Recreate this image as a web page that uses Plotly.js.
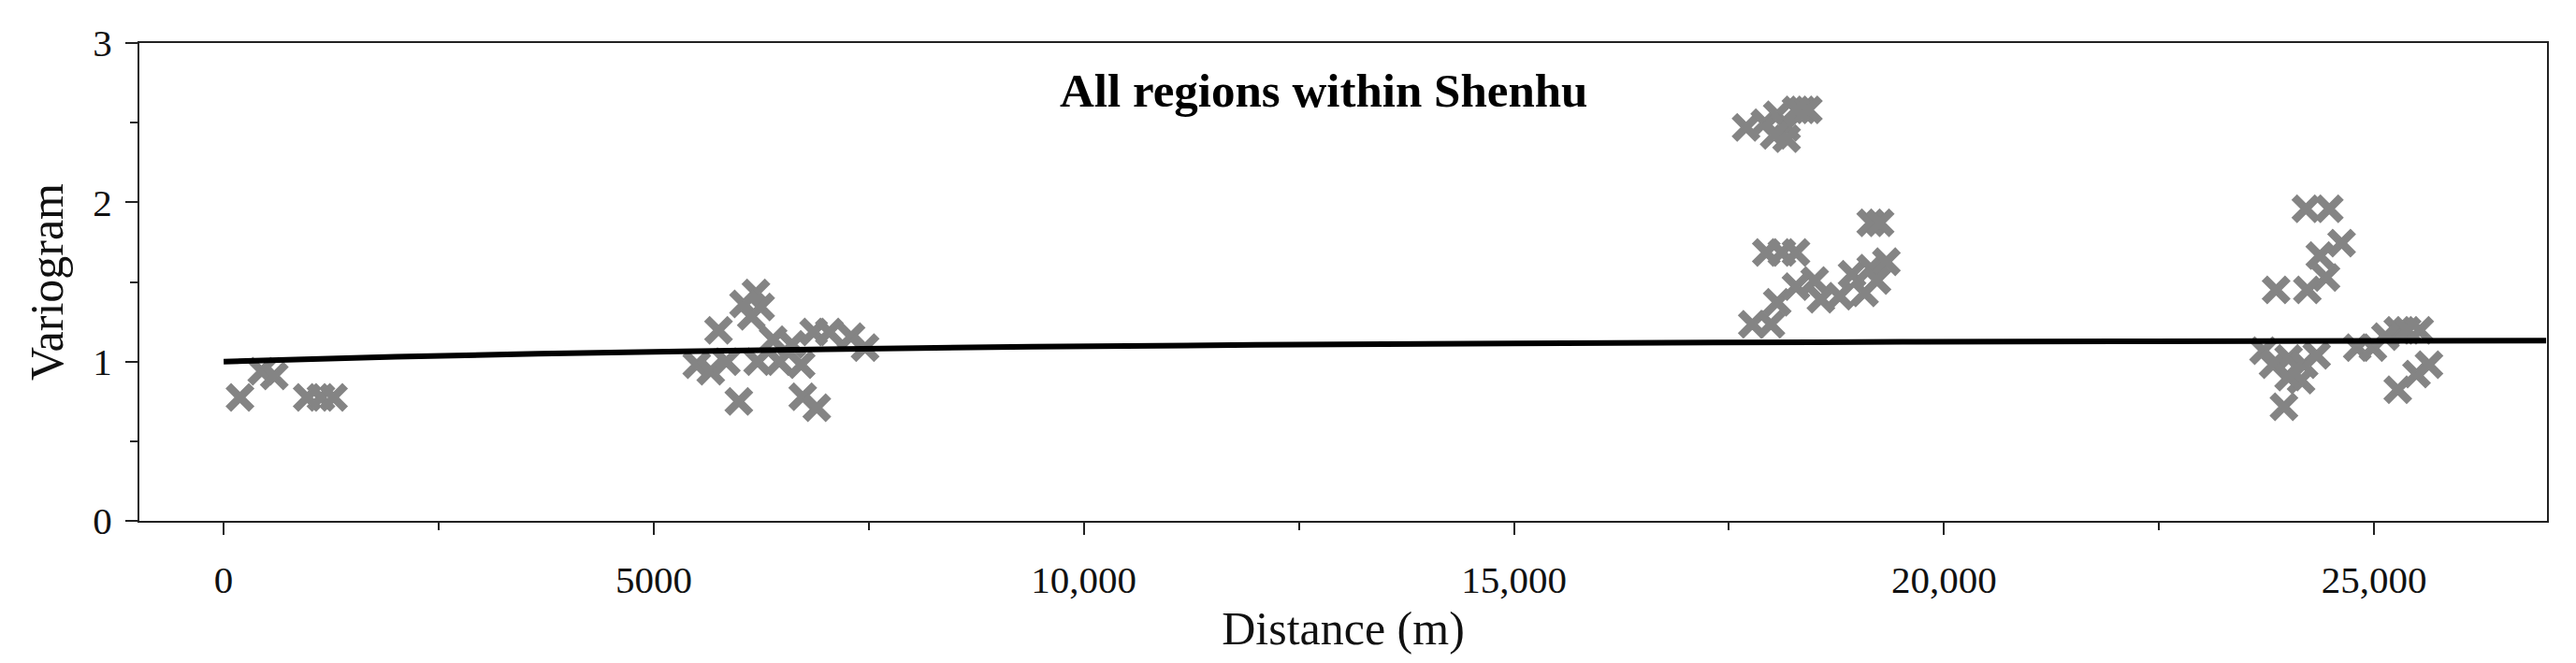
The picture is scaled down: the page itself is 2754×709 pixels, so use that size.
<!DOCTYPE html>
<html>
<head>
<meta charset="utf-8">
<script src="https://cdn.plot.ly/plotly-3.0.1.min.js"></script>
<style>
  html, body { margin: 0; padding: 0; background: #fff; }
  #plot { width: 2754px; height: 709px; }
</style>
</head>
<body>
<div id="plot"></div>
<script>
document.addEventListener("DOMContentLoaded", function(event) {

  // experimental variogram points, distance in m
  const distance = [
    190, 443, 588, 971, 1131, 1277,
    6188, 6044, 6243, 6134, 5753, 5500, 5663, 5844, 6388, 6207,
    6460, 6714, 6859, 7041, 7294, 7457, 6606, 5989, 6732, 6895,
    17699, 17916, 18061, 18170, 18170, 18025, 18352, 18423, 18279,
    17934, 18115, 18279, 19148, 19257,
    17771, 17988, 18061, 18279, 18496, 18569, 18787, 18931, 19148, 19330, 19076, 19221,
    24207, 24479, 24622, 24369, 24441, 24224, 23861,
    23715, 23825, 24006, 24187, 24332, 24151, 24006, 23952,
    24804, 24986, 25275, 25384, 25530, 25131,
    25275, 25493, 25638
  ];

  const gamma = [
    0.775, 0.94, 0.91, 0.775, 0.775, 0.775,
    1.431, 1.362, 1.343, 1.284, 1.196, 0.98, 0.94, 1.0, 1.137, 1.0,
    1.0, 0.98, 1.186, 1.186, 1.157, 1.088, 1.108, 0.75, 0.78, 0.71,
    2.47, 2.50, 2.55, 2.47, 2.40, 2.42, 2.58, 2.58, 2.58,
    1.685, 1.685, 1.685, 1.871, 1.871,
    1.235, 1.235, 1.372, 1.47, 1.509, 1.392, 1.411, 1.548, 1.587, 1.627, 1.431, 1.509,
    1.959, 1.959, 1.744, 1.666, 1.528, 1.45, 1.45,
    1.069, 0.981, 1.02, 0.981, 1.039, 0.883, 0.902, 0.716,
    1.088, 1.088, 1.196, 1.196, 1.196, 1.157,
    0.824, 0.922, 0.981
  ];

  // fitted model curve
  const modelDistance = [0, 2000, 4500, 7000, 9400, 12000, 15000, 18500, 22000, 25000, 27000];
  const modelGamma = [1.0, 1.03, 1.057, 1.077, 1.093, 1.105, 1.114, 1.122, 1.127, 1.130, 1.131];

  const xTicks = [0, 5000, 10000, 15000, 20000, 25000];
  const xTickText = ['0', '5000', '10,000', '15,000', '20,000', '25,000'];
  const yTicks = [0, 1, 2, 3];

  const serif = '"Liberation Serif", "DejaVu Serif", serif';

  const points = {
    x: distance,
    y: gamma,
    mode: 'markers',
    type: 'scatter',
    marker: {
      symbol: 'x-thin-open',
      size: 25,
      color: '#848484',
      line: { color: '#848484', width: 8.5 }
    },
    hoverinfo: 'skip'
  };

  const model = {
    x: modelDistance,
    y: modelGamma,
    mode: 'lines',
    type: 'scatter',
    line: { color: '#000000', width: 6, shape: 'spline' },
    hoverinfo: 'skip'
  };

  const layout = {
    width: 2754,
    height: 709,
    showlegend: false,
    paper_bgcolor: '#ffffff',
    plot_bgcolor: '#ffffff',
    margin: { l: 149, r: 31, t: 46, b: 152 },
    font: { family: serif, color: '#111111', size: 41 },
    xaxis: {
      range: [-980, 27010],
      tickvals: xTicks,
      ticktext: xTickText,
      ticks: 'outside',
      ticklen: 13,
      tickwidth: 2,
      tickcolor: '#222222',
      ticklabelstandoff: 13,
      minor: { dtick: 2500, ticks: 'outside', ticklen: 8, tickwidth: 2, tickcolor: '#222222' },
      showgrid: false,
      zeroline: false,
      showline: true,
      linecolor: '#222222',
      linewidth: 2,
      mirror: true,
      tickfont: { family: serif, size: 41, color: '#111111' },
      title: { text: 'Distance (m)', font: { family: serif, size: 50, color: '#111111' }, standoff: 12 }
    },
    yaxis: {
      range: [0, 3],
      tickvals: yTicks,
      ticks: 'outside',
      ticklen: 13,
      tickwidth: 2,
      tickcolor: '#222222',
      ticklabelstandoff: 6,
      minor: { dtick: 0.5, ticks: 'outside', ticklen: 8, tickwidth: 2, tickcolor: '#222222' },
      showgrid: false,
      zeroline: false,
      showline: true,
      linecolor: '#222222',
      linewidth: 2,
      mirror: true,
      tickfont: { family: serif, size: 41, color: '#111111' },
      title: { text: 'Variogram', font: { family: serif, size: 50, color: '#111111' }, standoff: 16 }
    },
    annotations: [{
      text: '<b>All regions within Shenhu</b>',
      xref: 'paper',
      yref: 'paper',
      x: 0.492,
      y: 0.90,
      yanchor: 'middle',
      showarrow: false,
      font: { family: serif, size: 51, color: '#000000' }
    }]
  };

  Plotly.newPlot('plot', [points, model], layout, { displayModeBar: false, staticPlot: true });

});
</script>
</body>
</html>
